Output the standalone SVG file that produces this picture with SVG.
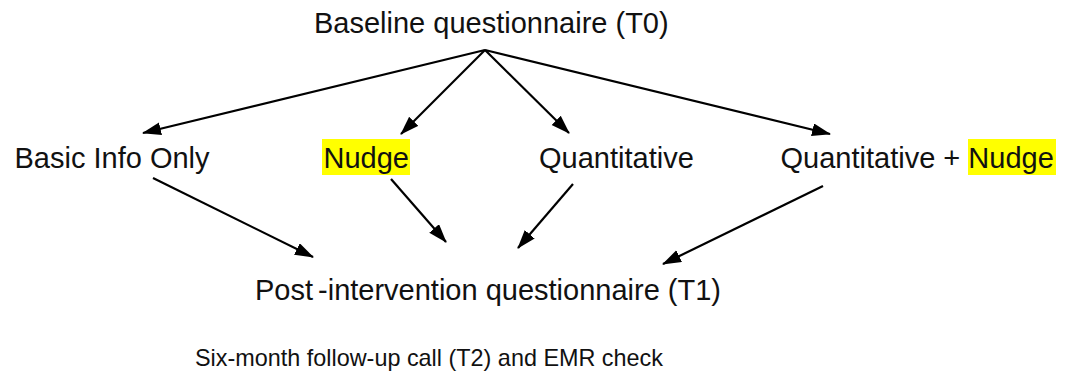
<svg xmlns="http://www.w3.org/2000/svg" width="1065" height="381" viewBox="0 0 1065 381">
<style>
text{font-family:"Liberation Sans",Arial,sans-serif;font-size:29px;fill:#111}
.small{font-size:23.4px}
.hl{fill:#ffff00}
.conn line{stroke:#000;stroke-width:2.2;marker-end:url(#ah)}
</style>
<defs>
<marker id="ah" markerUnits="userSpaceOnUse" markerWidth="20" markerHeight="14" refX="18" refY="6.5" orient="auto">
<path d="M0,0 L19,6.5 L0,13 z" fill="#000"/>
</marker>
</defs>
<rect width="1065" height="381" fill="#fff"/>
<g id="t0"><text x="314" y="33">Baseline questionnaire (T0)</text></g>
<g id="basic"><text x="14.5" y="168">Basic Info Only</text></g>
<g id="nudge"><rect class="hl" x="322" y="139" width="88" height="36"/><text x="323.5" y="168">Nudge</text></g>
<g id="quant"><text x="539" y="168">Quantitative</text></g>
<g id="quantnudge"><rect class="hl" x="968" y="139" width="88" height="36"/><text x="780.5" y="168">Quantitative + <tspan>Nudge</tspan></text></g>
<g id="t1"><text x="255" y="300">Post<tspan dx="5">-intervention questionnaire (T1)</tspan></text></g>
<g id="t2"><text class="small" x="195" y="366">Six-month follow-up call (T2) and EMR check</text></g>
<g class="conn" id="connectors">
<line x1="485" y1="50" x2="143" y2="133"/>
<line x1="485" y1="50" x2="401" y2="134"/>
<line x1="485" y1="50" x2="569" y2="133"/>
<line x1="485" y1="50" x2="830" y2="134"/>
<line x1="153" y1="178" x2="313" y2="257"/>
<line x1="391" y1="179" x2="446" y2="242"/>
<line x1="573" y1="184" x2="518" y2="248"/>
<line x1="823" y1="186" x2="663" y2="264"/>
</g>
</svg>
